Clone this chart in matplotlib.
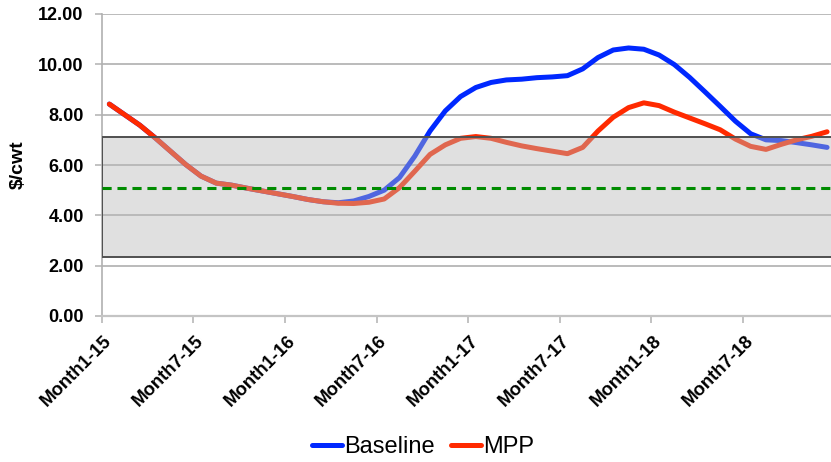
import matplotlib
matplotlib.use("Agg")
import matplotlib.pyplot as plt
import numpy as np

plt.rcParams['font.family'] = ['Liberation Sans', 'DejaVu Sans']

# Monthly categories, Jan 2015 .. Dec 2018
years = [15, 16, 17, 18]
months = [f"Month{m}-{y}" for y in years for m in range(1, 13)]

# $/cwt series
baseline = [8.42, 8.00, 7.58, 7.08, 6.55, 6.02, 5.56, 5.28, 5.20, 5.08,
            4.97, 4.86, 4.75, 4.63, 4.54, 4.50, 4.57, 4.75, 5.00, 5.50,
            6.35, 7.35, 8.15, 8.72, 9.08, 9.28, 9.38, 9.41, 9.47, 9.50,
            9.55, 9.82, 10.27, 10.57, 10.65, 10.60, 10.37, 9.99, 9.48, 8.91,
            8.33, 7.74, 7.24, 7.00, 6.97, 6.89, 6.80, 6.70]
mpp = [8.42, 8.00, 7.58, 7.08, 6.55, 6.02, 5.56, 5.28, 5.20, 5.08,
       4.97, 4.86, 4.75, 4.63, 4.54, 4.48, 4.47, 4.52, 4.65, 5.10,
       5.75, 6.42, 6.80, 7.06, 7.13, 7.06, 6.90, 6.76, 6.65, 6.55,
       6.45, 6.70, 7.35, 7.90, 8.28, 8.47, 8.36, 8.10, 7.87, 7.64,
       7.40, 7.03, 6.74, 6.62, 6.82, 7.00, 7.14, 7.32]

band_low, band_high = 2.36, 7.12
reference_level = 5.08

yticks = [0, 2, 4, 6, 8, 10, 12]

fig = plt.figure(figsize=(8.31, 4.62), dpi=100)
ax = fig.add_axes([101.7 / 831, 1 - 316 / 462, (834.7 - 101.7) / 831, (316 - 14) / 462])

x = np.arange(len(months))
ax.plot(x, baseline, color='#0028ff', lw=3.6, solid_capstyle='round', zorder=3, label='Baseline')
ax.plot(x, mpp, color='#ff2a00', lw=3.6, solid_capstyle='round', zorder=4, label='MPP')

# translucent band drawn over the lines
ax.axhspan(band_low, band_high, facecolor=(0.72, 0.72, 0.72, 0.43),
           edgecolor='#505050', lw=1.4, zorder=5)
ax.axhline(reference_level, color='#008c00', lw=2.2, ls=(0, (3.0, 1.9)), zorder=6)

ax.set_xlim(-0.5, len(months) - 0.5)
ax.set_ylim(0, 12)

ax.set_yticks(yticks)
ax.set_yticklabels([f"{v:.2f}" for v in yticks], fontsize=13, fontweight='bold')
ax.grid(axis='y', color='#a8a8a8', lw=1.1, zorder=1)
ax.set_axisbelow(True)

lab_idx = list(range(0, len(months), 6))
ax.set_xticks(lab_idx)
ax.set_xticklabels([months[i] for i in lab_idx], rotation=45, ha='right',
                   va='center', rotation_mode='anchor', fontsize=13.3, fontweight='bold')
ax.set_xticks([i - 0.5 for i in lab_idx], minor=True)
ax.tick_params(axis='x', which='major', length=0, pad=16)
ax.tick_params(axis='x', which='minor', length=5, color='#b8b8b8', width=1.2)
ax.tick_params(axis='y', length=5, color='#b8b8b8', width=1.2, pad=8)

for s in ['top', 'right']:
    ax.spines[s].set_visible(False)
ax.spines['left'].set_color('#b0b0b0')
ax.spines['left'].set_linewidth(1.2)
ax.spines['bottom'].set_color('#c4c4c4')
ax.spines['bottom'].set_linewidth(1.6)

ax.set_ylabel('$/cwt', fontsize=14, fontweight='bold', labelpad=8)

fig.legend(loc='center', bbox_to_anchor=(0.509, 0.032), ncol=2, frameon=False,
           fontsize=17, handlelength=1.25, handletextpad=0.1, columnspacing=0.7,
           borderpad=0, borderaxespad=0)

fig.savefig('out.png', dpi=100)
